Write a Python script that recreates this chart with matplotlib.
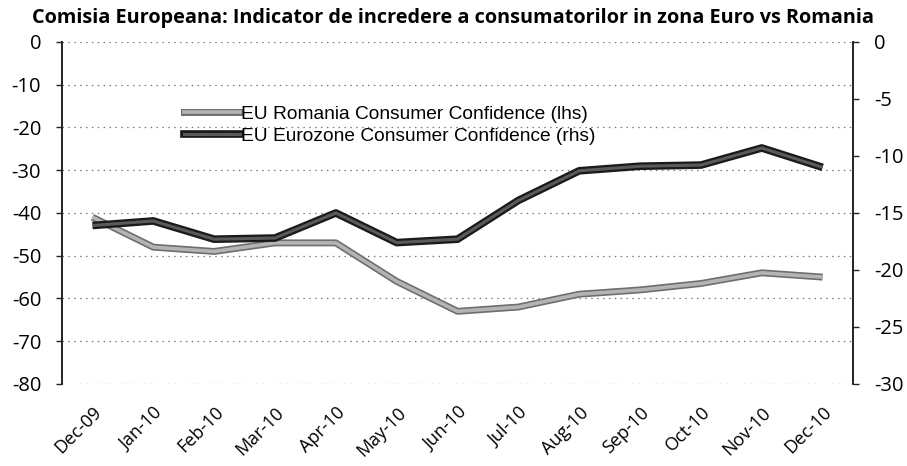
import matplotlib
matplotlib.use("Agg")
import matplotlib.pyplot as plt
import matplotlib.patheffects as pe
from matplotlib.lines import Line2D

months = ["Dec-09", "Jan-10", "Feb-10", "Mar-10", "Apr-10", "May-10", "Jun-10",
          "Jul-10", "Aug-10", "Sep-10", "Oct-10", "Nov-10", "Dec-10"]
romania = [-41, -48, -49, -47, -47, -56, -63, -62, -59, -58, -56.5, -54, -55]
eurozone = [-16.1, -15.7, -17.3, -17.2, -15.0, -17.6, -17.3, -13.9, -11.3, -10.9, -10.8, -9.3, -11.0]
left_ticks = [0, -10, -20, -30, -40, -50, -60, -70, -80]
right_ticks = [0, -5, -10, -15, -20, -25, -30]

title = "Comisia Europeana: Indicator de incredere a consumatorilor in zona Euro vs Romania"
lbl_ro = "EU Romania Consumer Confidence (lhs)"
lbl_ez = "EU Eurozone Consumer Confidence (rhs)"

fig = plt.figure(figsize=(9.07, 4.66), dpi=100)
ax = fig.add_axes([0.0684, 0.176, 0.8721, 0.734])
ax2 = ax.twinx()

x = list(range(len(months)))

ro_fx = [pe.Stroke(linewidth=5, foreground="#6e6e6e"), pe.Stroke(linewidth=2.6, foreground="#b4b4b4")]
ez_fx = [pe.Stroke(linewidth=5.5, foreground="#1a1a1a"), pe.Stroke(linewidth=2.2, foreground="#5a5a5a")]

ln1, = ax.plot(x, romania, color="#9a9a9a", lw=4, zorder=3, path_effects=ro_fx, solid_capstyle="butt")
ln2, = ax2.plot(x, eurozone, color="#333333", lw=4, zorder=3, path_effects=ez_fx, solid_capstyle="butt")

ax.set_xlim(-0.5, len(months) - 0.5)
ax.set_ylim(-80, 0)
ax2.set_ylim(-30, 0)
ax.set_yticks(left_ticks)
ax2.set_yticks(right_ticks)

tfont = "Open Sans"
ax.set_yticklabels([str(v) for v in left_ticks], fontsize=14.5, family=tfont)
ax2.set_yticklabels([str(v) for v in right_ticks], fontsize=14.5, family=tfont)

ax.set_xticks(x)
ax.set_xticklabels(months, rotation=45, ha="right", va="top", rotation_mode="anchor",
                   fontsize=13, family=tfont)
ax.tick_params(axis="x", length=0, pad=14)
ax.tick_params(axis="y", length=4, width=1, color="#222222", pad=11, direction="out")
ax2.tick_params(axis="y", length=4, width=1, color="#222222", pad=11, direction="out")

ax.grid(axis="y", linestyle=(0, (1.2, 3.5)), color="#777777", linewidth=0.9)
ax.set_axisbelow(True)

for a in (ax, ax2):
    a.spines["bottom"].set_visible(False)
    a.spines["top"].set_visible(False)
    a.spines["left"].set_color("#222222")
    a.spines["right"].set_color("#222222")
    a.spines["left"].set_linewidth(1.2)
    a.spines["right"].set_linewidth(1.2)
    a.patch.set_visible(False)

h1 = Line2D([0], [0], color="#9a9a9a", lw=4, path_effects=ro_fx)
h2 = Line2D([0], [0], color="#333333", lw=4, path_effects=ez_fx)
leg = ax.legend([h1, h2], [lbl_ro, lbl_ez], loc="upper left", bbox_to_anchor=(0.142, 0.843),
                frameon=False, prop={"family": "Liberation Sans", "size": 13.8},
                handlelength=2.9, handletextpad=0.1, labelspacing=0.25, borderpad=0)

fig.text(0.5, 0.962, title, ha="center", va="center", fontsize=14.3, fontweight="bold", family=tfont)

fig.savefig("out.png", dpi=100)
